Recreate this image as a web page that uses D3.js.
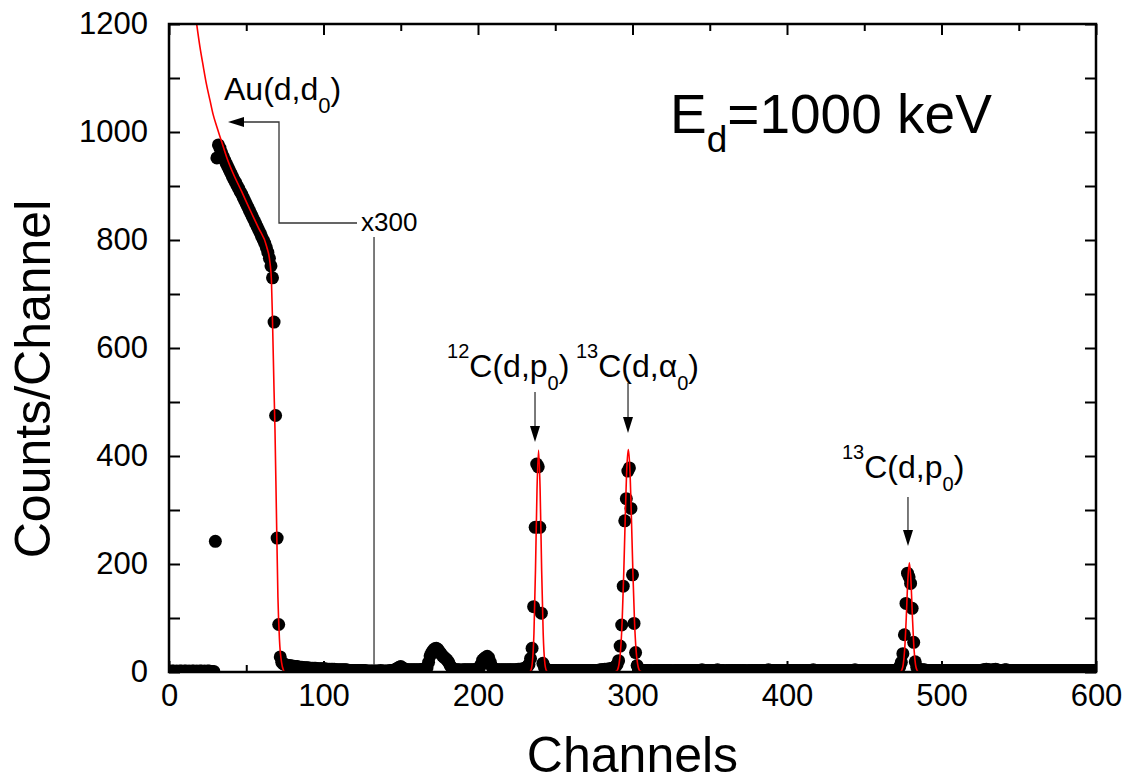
<html>
<head>
<meta charset="utf-8">
<title>Deuteron spectrum, Ed = 1000 keV</title>
<style>
  body { margin: 0; background: #fff; }
  svg text { font-family: "Liberation Sans", Arial, sans-serif; fill: #000; }
</style>
<script src="https://cdnjs.cloudflare.com/ajax/libs/d3/7.8.5/d3.min.js"></script>
</head>
<body>
<svg id="chart" width="1127" height="782"></svg>
<script>

// measured counts, one value per channel (index = channel number)
var counts = [
  2,1,2,2,1,2,1,2,2,1,2,2,1,2,1,2,2,1,2,1,
  2,2,1,2,1,2,2,1,1,1,242,952,976,970,962,955,948,942,936,930,
  924,918,912,907,901,896,890,885,879,873,867,861,855,849,843,837,831,825,819,813,
  806,800,794,786,777,766,752,730,648,475,248,88,28,18,15,14,13,12,12,11,
  11,10,10,10,9,9,9,8,8,8,8,7,7,7,7,7,6,6,6,6,
  6,6,5,5,5,5,5,5,4,4,4,4,4,4,4,4,3,3,3,3,
  3,3,3,3,3,3,3,3,2,2,2,2,2,2,2,2,2,3,2,2,
  2,2,2,3,3,3,4,5,7,9,10,8,6,5,4,4,4,4,4,4,
  4,4,4,4,5,5,6,8,18,30,36,40,43,44,42,38,34,30,27,25,
  22,18,12,8,5,4,4,4,4,3,4,4,4,4,4,4,4,4,4,5,
  6,9,14,22,25,27,29,26,18,10,6,5,4,4,4,4,4,4,4,4,
  4,4,4,4,4,4,5,5,5,6,6,8,10,14,25,44,121,268,385,380,
  268,109,16,9,5,4,3,3,3,3,3,3,3,3,3,3,3,3,3,3,
  3,3,3,3,3,3,3,3,3,3,3,3,3,3,3,3,3,3,3,4,
  4,4,5,5,5,6,6,7,8,10,14,21,48,87,159,280,321,372,378,303,
  180,90,36,12,6,4,3,3,3,3,3,3,3,2,3,3,3,3,3,3,
  3,3,3,3,3,3,2,3,3,3,3,3,3,3,3,3,3,3,3,3,
  3,3,3,3,3,4,3,3,3,3,3,3,3,3,3,4,3,3,3,3,
  2,3,3,3,3,3,3,3,3,3,3,3,3,3,2,3,3,3,3,3,
  3,3,3,3,3,3,3,3,4,3,3,3,3,3,3,3,3,3,3,3,
  3,3,3,3,3,3,3,3,3,3,3,3,3,3,3,3,3,4,3,3,
  3,3,3,3,3,3,3,3,3,3,3,3,3,3,3,3,3,3,3,3,
  3,3,3,3,4,3,3,3,3,3,3,3,3,3,3,3,3,3,3,3,
  3,3,3,3,3,3,3,3,3,3,3,4,6,10,18,34,69,127,183,176,
  164,118,55,19,9,5,4,4,4,4,3,3,3,3,3,3,3,3,3,3,
  3,3,3,3,3,3,3,3,3,3,3,3,3,3,3,3,3,3,3,3,
  3,3,3,3,3,3,3,4,4,5,4,4,3,4,4,5,4,3,3,3,
  3,4,4,3,3,3,3,3,3,3,3,3,3,3,3,3,3,3,3,3,
  3,3,3,3,3,3,3,3,3,3,3,3,3,3,3,3,3,3,3,3,
  3,3,3,3,3,3,3,3,3,3,3,3,3,3,3,3,3,3,3,3,
  3
];

// fitted curve (red)
var fitChannel = [17.9,20,22.2,24,26.5,28.5,30.9,34.1,37.5,41.4,47,52.4,58,63.2,65.4,66.3,67,68,68.6,69.5,70.5,71.5,72.9,74,75,
  233.2,234.2,235.2,236.2,237.2,238.2,239.2,240.2,241.2,242.2,243.2,244.2,245.2,
  288.3,289.3,290.3,291.3,292.3,293.3,294.3,295.3,296.3,297.3,298.3,299.3,300.3,301.3,302.3,303.3,304.3,305.3,306.3,
  473.2,474.2,475.2,476.2,477.2,478.2,479.2,480.2,481.2,482.2,483.2,484.2,485.2,489.4];
var fitCount = [1200,1158,1121,1092,1059,1033,1010,982,952,924,890,856,822,788,757,725,650,520,448,300,139,60,17,4,0,
  0,3,18,71,188,338,411,338,188,71,18,3,0,
  0,1,4,15,41,94,180,285,376,412,376,285,180,94,41,15,4,1,0,
  0,3,13,43,101,170,202,170,101,43,13,3,0,0];

var xTicks = [0,100,200,300,400,500,600];
var xMinor = [50,150,250,350,450,550];
var yTicks = [0,200,400,600,800,1000,1200];
var yMinor = [100,300,500,700,900,1100];

var svg = d3.select("#chart"),
    margin = {top: 24, right: 31, bottom: 110, left: 169},
    width = +svg.attr("width") - margin.left - margin.right,
    height = +svg.attr("height") - margin.top - margin.bottom,
    g = svg.append("g").attr("transform", "translate(" + margin.left + "," + margin.top + ")");

var x = d3.scaleLinear().domain([0, 600]).range([0, width]);
var y = d3.scaleLinear().domain([0, 1200]).range([height, 0]);

svg.append("defs").append("clipPath").attr("id", "plotclip")
  .append("rect").attr("width", width).attr("height", height);

var plot = g.append("g").attr("clip-path", "url(#plotclip)");

// data points
plot.append("g").selectAll("circle")
  .data(counts)
  .join("circle")
  .attr("cx", function(d, i) { return x(i); })
  .attr("cy", function(d) { return y(d); })
  .attr("r", 6.5)
  .attr("fill", "#000");

// fit
var fitLine = d3.line()
  .x(function(d, i) { return x(fitChannel[i]); })
  .y(function(d) { return y(d); })
  .curve(d3.curveMonotoneX);

plot.append("path")
  .datum(fitCount)
  .attr("d", fitLine)
  .attr("fill", "none")
  .attr("stroke", "#ff0000")
  .attr("stroke-width", 1.6);

// axes, ticks pointing inward
function styleAxis(sel) {
  sel.select(".domain").remove();
  sel.selectAll("line").attr("stroke", "#000").attr("stroke-width", 2);
  sel.selectAll("text").style("font-size", "31px").style("font-family", "'Liberation Sans', Arial, sans-serif");
}

var fmt = d3.format("d");

g.append("g").attr("transform", "translate(0," + height + ")")
  .call(d3.axisBottom(x).tickValues(xTicks).tickFormat(fmt).tickSize(-11).tickSizeOuter(0).tickPadding(12))
  .call(styleAxis);
g.append("g").attr("transform", "translate(0," + height + ")")
  .call(d3.axisBottom(x).tickValues(xMinor).tickSize(-7).tickSizeOuter(0).tickFormat(""))
  .call(styleAxis);
g.append("g")
  .call(d3.axisTop(x).tickValues(xTicks).tickSize(-11).tickSizeOuter(0).tickFormat(""))
  .call(styleAxis);
g.append("g")
  .call(d3.axisTop(x).tickValues(xMinor).tickSize(-7).tickSizeOuter(0).tickFormat(""))
  .call(styleAxis);

g.append("g")
  .call(d3.axisLeft(y).tickValues(yTicks).tickFormat(fmt).tickSize(-11).tickSizeOuter(0).tickPadding(21))
  .call(styleAxis);
g.append("g")
  .call(d3.axisLeft(y).tickValues(yMinor).tickSize(-11).tickSizeOuter(0).tickFormat(""))
  .call(styleAxis);
g.append("g").attr("transform", "translate(" + width + ",0)")
  .call(d3.axisRight(y).tickValues(yTicks.concat(yMinor)).tickSize(-11).tickSizeOuter(0).tickFormat(""))
  .call(styleAxis);

g.append("rect")
  .attr("width", width).attr("height", height)
  .attr("fill", "none").attr("stroke", "#000").attr("stroke-width", 2.5);

// axis titles
svg.append("text")
  .attr("x", margin.left + width / 2).attr("y", 772)
  .attr("text-anchor", "middle")
  .style("font-size", "50px")
  .text("Channels");

svg.append("text")
  .attr("transform", "translate(50,379) rotate(-90)")
  .attr("text-anchor", "middle")
  .style("font-size", "50px")
  .text("Counts/Channel");

// annotations
var ann = g.append("g");

function arrowHead(tx, ty, dir) {
  // dir: "left" or "down"
  var p;
  if (dir == "left") p = [[tx, ty], [tx + 16, ty - 5], [tx + 16, ty + 5]];
  else p = [[tx, ty], [tx - 5, ty - 16], [tx + 5, ty - 16]];
  ann.append("path").attr("d", "M" + p.join("L") + "Z").attr("fill", "#000");
}

function lineStyle(sel) {
  sel.attr("fill", "none").attr("stroke", "#333").attr("stroke-width", 1.3);
}

// Au(d,d0) arrow with x300 leader
ann.append("path")
  .attr("d", "M" + x(121.7) + "," + y(831.5) + "L" + x(71.2) + "," + y(831.5) +
             "L" + x(71.2) + "," + y(1018.5) + "L" + (x(38.2) + 14) + "," + y(1018.5))
  .call(lineStyle);
arrowHead(x(38.2), y(1018.5), "left");

ann.append("line")
  .attr("x1", x(132.7)).attr("x2", x(132.7))
  .attr("y1", y(805.6)).attr("y2", y(13))
  .call(lineStyle);

ann.append("text")
  .attr("x", x(124.3)).attr("y", y(816.7))
  .style("font-size", "26px")
  .text("x300");

// reaction arrows
[[236.9, 518.5, 425.9], [297.1, 535.2, 442.6], [478.3, 324, 233.3]].forEach(function(a) {
  ann.append("line")
    .attr("x1", x(a[0])).attr("x2", x(a[0]))
    .attr("y1", y(a[1])).attr("y2", y(a[2]) - 14)
    .call(lineStyle);
  arrowHead(x(a[0]), y(a[2]), "down");
});

function label(cx, cy, parts) {
  var t = ann.append("text").attr("x", x(cx)).attr("y", y(cy));
  parts.forEach(function(p) {
    t.append("tspan").style("font-size", p[1] + "px").attr("dy", p[2]).text(p[0]);
  });
}

label(35.6, 1059, [["Au(d,d", 32, 0], ["0", 22, 13], [")", 32, -13]]);
label(180, 546, [["12", 20, -19], ["C(d,p", 32, 19], ["0", 20, 13], [")", 32, -13]]);
label(263.4, 546, [["13", 20, -19], ["C(d,", 32, 19], ["\u03b1", 32, 0], ["0", 20, 13], [")", 32, -13]]);
label(435.6, 359.3, [["13", 20, -19], ["C(d,p", 32, 19], ["0", 20, 13], [")", 32, -13]]);

label(324.3, 998.1, [["E", 55, 0], ["d", 37, 19], ["=1000 keV", 55, -19]]);

</script>
</body>
</html>
